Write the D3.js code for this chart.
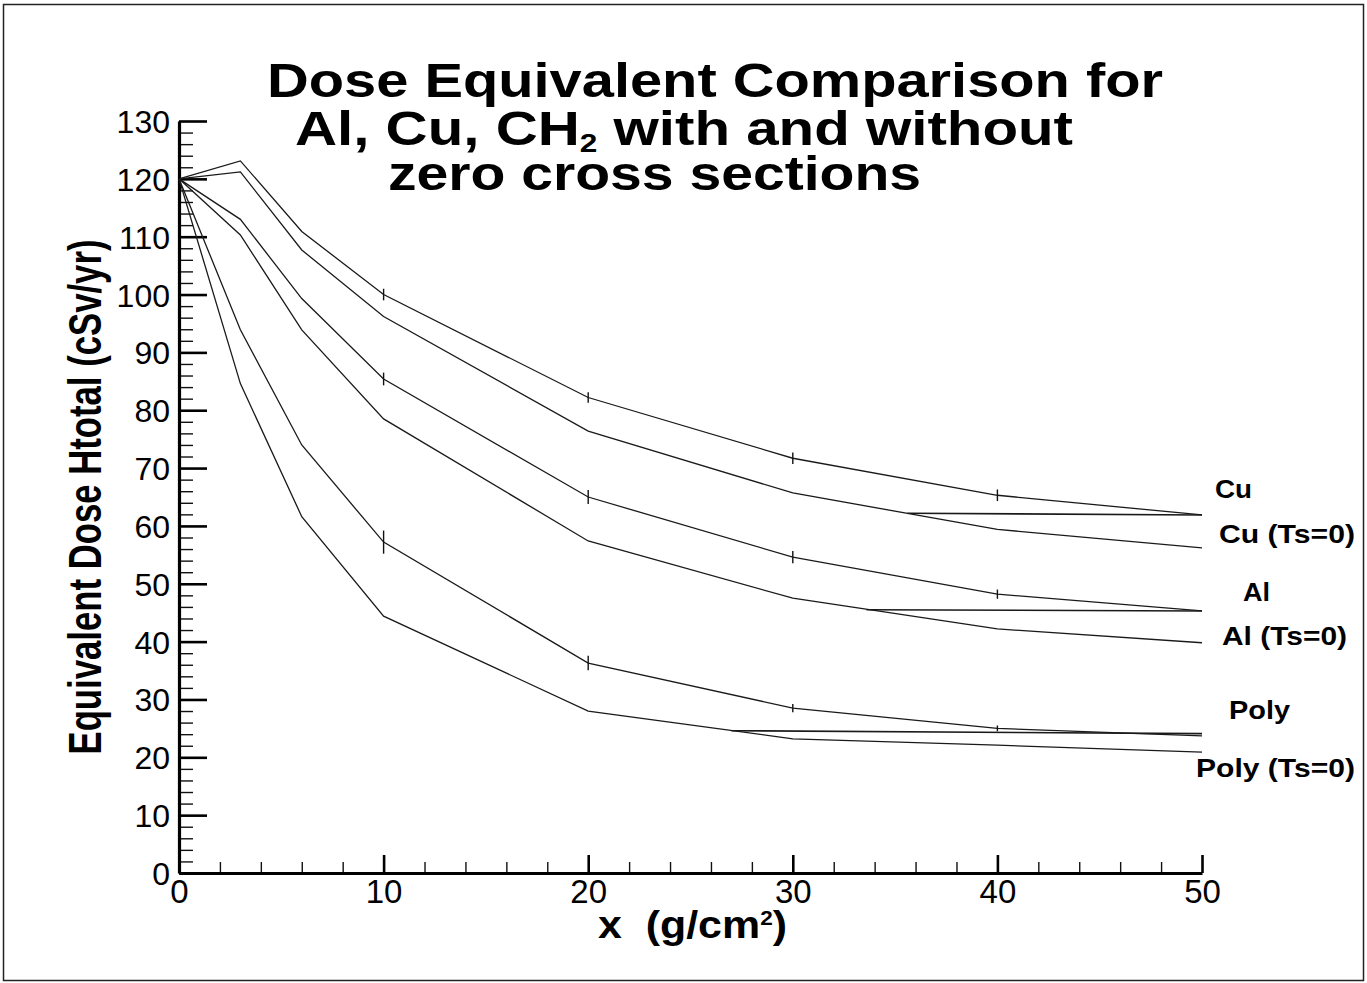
<!DOCTYPE html>
<html><head><meta charset="utf-8">
<script src="https://cdn.jsdelivr.net/npm/d3@7"></script>
<style>
body{margin:0;background:#fff}
svg{display:block}
text{font-family:"Liberation Sans",Arial,Helvetica,sans-serif;fill:#000}
</style>
</head><body>
<svg id="chart" width="1367" height="983"></svg>
<script>
// ---- data ----
const xValues   = [0, 3, 6, 10, 20, 30, 40, 50];
const cu        = [120, 123.1, 110.9, 100.0, 82.2, 71.7, 65.3, 61.9];
const cuTs0     = [120, 121.2, 107.7, 96.2, 76.4, 65.7, 59.4, 56.2];
const al        = [120, 113.0, 99.3, 85.4, 65.0, 54.6, 48.2, 45.3];
const alTs0     = [120, 110.3, 93.9, 78.5, 57.4, 47.5, 42.2, 39.8];
const poly      = [120, 93.9, 74.0, 57.2, 36.3, 28.5, 25.0, 23.7];
const polyTs0   = [120, 84.6, 61.6, 44.4, 28.0, 23.2, 22.1, 20.9];

const errX      = [10, 20, 30, 40];
const cuErr     = [1.0, 0.9, 1.0, 1.0];
const alErr     = [1.1, 1.2, 1.05, 0.8];
const polyErr   = [2.0, 1.25, 0.7, 0.5];

// stray horizontal join segments visible in the original plot [x0,y0,x1,y1]
const cuJoin    = [35.6, 62.2, 50, 61.9];
const alJoin    = [33.6, 45.5, 50, 45.3];
const polyJoin  = [27.0, 24.6, 50, 24.1];

const xMajorTicks = [0, 10, 20, 30, 40, 50];
const yMajorTicks = [0, 10, 20, 30, 40, 50, 60, 70, 80, 90, 100, 110, 120, 130];

const seriesNames = ["Cu", "Cu (Ts=0)", "Al", "Al (Ts=0)", "Poly", "Poly (Ts=0)"];
const seriesValues = [cu, cuTs0, al, alTs0, poly, polyTs0];

// ---- layout ----
const svg = d3.select("#chart");
const x = d3.scaleLinear().domain([0, 50]).range([179, 1202]);
const y = d3.scaleLinear().domain([0, 130]).range([873, 121]);

// frame
svg.append("rect").attr("x", 3.5).attr("y", 4.5).attr("width", 1360).attr("height", 976)
  .attr("fill", "none").attr("stroke", "#222").attr("stroke-width", 1.5);

// axes: minor ticks
const xMinor = d3.range(0, 51, 2).filter(v => v % 10 !== 0);
const yMinor = d3.range(0, 131, 2).filter(v => v % 10 !== 0);

const gxMinor = svg.append("g").attr("transform", "translate(0,873)")
  .call(d3.axisBottom(x).tickValues(xMinor).tickSize(-11).tickSizeOuter(0).tickFormat(""));
const gyMinor = svg.append("g").attr("transform", "translate(179,0)")
  .call(d3.axisLeft(y).tickValues(yMinor).tickSize(-14).tickSizeOuter(0).tickFormat(""));
[gxMinor, gyMinor].forEach(g => {
  g.select(".domain").remove();
  g.selectAll(".tick line").attr("stroke", "#111").attr("stroke-width", 1.4);
});

const gx = svg.append("g").attr("transform", "translate(0,873)")
  .call(d3.axisBottom(x).tickValues(xMajorTicks).tickSize(-18).tickSizeOuter(0).tickPadding(7).tickFormat(d3.format("d")));
const gy = svg.append("g").attr("transform", "translate(179,0)")
  .call(d3.axisLeft(y).tickValues(yMajorTicks).tickSize(-28).tickSizeOuter(0).tickPadding(9).tickFormat(d3.format("d")));
[gx, gy].forEach(g => {
  g.select(".domain").attr("stroke", "#000").attr("stroke-width", 3.2);
  g.selectAll(".tick line").attr("stroke", "#000").attr("stroke-width", 2.6);
  g.selectAll(".tick text").attr("font-family", "'Liberation Sans',Arial,sans-serif").attr("fill", "#000");
});
gx.selectAll(".tick text").attr("font-size", 33);
gy.selectAll(".tick text").attr("font-size", 32).attr("dy", "0.36em");

// series lines
const line = d3.line().x(d => x(d[0])).y(d => y(d[1]));
seriesValues.forEach(vals => {
  svg.append("path").datum(xValues.map((xv, i) => [xv, vals[i]]))
    .attr("d", line).attr("fill", "none").attr("stroke", "#1a1a1a").attr("stroke-width", 1.3);
});

// join segments
[cuJoin, alJoin, polyJoin].forEach(s => {
  svg.append("line").attr("x1", x(s[0])).attr("y1", y(s[1])).attr("x2", x(s[2])).attr("y2", y(s[3]))
    .attr("stroke", "#1a1a1a").attr("stroke-width", 1.6);
});

// error bars
[[cu, cuErr], [al, alErr], [poly, polyErr]].forEach(([vals, errs]) => {
  errX.forEach((ex, i) => {
    const v = vals[xValues.indexOf(ex)];
    svg.append("line").attr("x1", x(ex)).attr("x2", x(ex))
      .attr("y1", y(v - errs[i])).attr("y2", y(v + errs[i]))
      .attr("stroke", "#111").attr("stroke-width", 1.4);
  });
});

// right-side labels
const labelLayout = [
  {x: 1215, y: 498, w: 37},
  {x: 1219, y: 543, w: 136},
  {x: 1243, y: 601, w: 27},
  {x: 1222, y: 645, w: 125},
  {x: 1229, y: 719, w: 61},
  {x: 1196, y: 777, w: 159}
];
seriesNames.forEach((name, i) => {
  const L = labelLayout[i];
  svg.append("text").attr("x", L.x).attr("y", L.y).attr("font-size", 25).attr("font-weight", "bold")
    .attr("textLength", L.w).attr("lengthAdjust", "spacingAndGlyphs").text(name);
});

// title
svg.append("text").attr("x", 267).attr("y", 97).attr("font-size", 48).attr("font-weight", "bold")
  .attr("textLength", 896).attr("lengthAdjust", "spacingAndGlyphs").text("Dose Equivalent Comparison for");
const t2 = svg.append("text").attr("x", 295).attr("y", 145).attr("font-size", 48).attr("font-weight", "bold")
  .attr("textLength", 778).attr("lengthAdjust", "spacingAndGlyphs");
t2.append("tspan").text("Al, Cu, CH");
t2.append("tspan").attr("dy", 7).attr("font-size", 26).text("2");
t2.append("tspan").attr("dy", -7).text(" with and without");
svg.append("text").attr("x", 388).attr("y", 190).attr("font-size", 48).attr("font-weight", "bold")
  .attr("textLength", 533).attr("lengthAdjust", "spacingAndGlyphs").text("zero cross sections");

// y axis title
svg.append("text").attr("transform", "translate(101,497) rotate(-90)").attr("text-anchor", "middle")
  .attr("font-size", 47).attr("font-weight", "bold")
  .attr("textLength", 515).attr("lengthAdjust", "spacingAndGlyphs").text("Equivalent Dose Htotal (cSv/yr)");

// x axis title
const xt = svg.append("text").attr("x", 598).attr("y", 938).attr("font-size", 38).attr("font-weight", "bold")
  .attr("textLength", 189).attr("lengthAdjust", "spacingAndGlyphs");
xt.append("tspan").text("x\u00a0\u00a0(g/cm");
xt.append("tspan").attr("dy", -13).attr("font-size", 20).text("2");
xt.append("tspan").attr("dy", 13).text(")");
</script>
</body></html>
